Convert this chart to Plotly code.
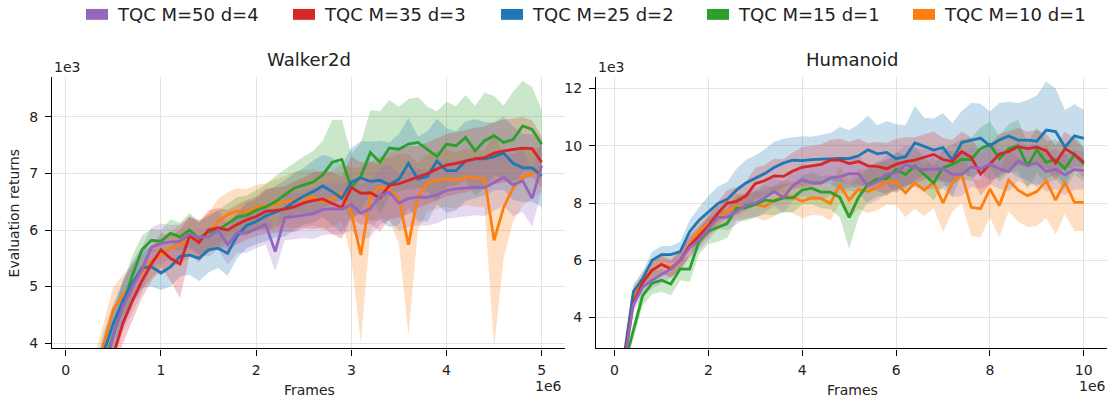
import plotly.graph_objects as go

# ---------------- data (frames in 1e6, returns in 1e3) ----------------
walker_frames = [0.3, 0.4, 0.5, 0.6, 0.7, 0.8, 0.9, 1.0,
                 1.1, 1.2, 1.3, 1.4, 1.5, 1.6, 1.7, 1.8, 1.9, 2.0,
                 2.1, 2.2, 2.3, 2.4, 2.5, 2.6, 2.7, 2.8, 2.9, 3.0,
                 3.1, 3.2, 3.3, 3.4, 3.5, 3.6, 3.7, 3.8, 3.9, 4.0,
                 4.1, 4.2, 4.3, 4.4, 4.5, 4.6, 4.7, 4.8, 4.9, 5.0]

walker_m50 = [2.9, 3.4, 4.15, 4.65, 5.0, 5.3, 5.7, 5.76,
              5.79, 5.8, 5.93, 5.87, 5.88, 6.0, 5.74, 5.95, 5.95, 6.03,
              6.1, 5.62, 6.22, 6.24, 6.26, 6.29, 6.36, 6.38, 6.37, 6.45,
              6.3, 6.38, 6.6, 6.67, 6.48, 6.56, 6.58, 6.58, 6.62, 6.7,
              6.73, 6.74, 6.76, 6.75, 6.84, 6.93, 6.8, 6.87, 6.56, 7.14]
walker_m50_std = [0.35, 0.4, 0.45, 0.45, 0.45, 0.4, 0.35, 0.35,
                  0.3, 0.3, 0.3, 0.3, 0.35, 0.35, 0.35, 0.35, 0.35, 0.35,
                  0.35, 0.35, 0.4, 0.4, 0.4, 0.45, 0.45, 0.45, 0.45, 0.45,
                  0.5, 0.5, 0.5, 0.5, 0.5, 0.5, 0.5, 0.5, 0.5, 0.5,
                  0.5, 0.5, 0.5, 0.5, 0.5, 0.5, 0.55, 0.55, 0.5, 0.45]

walker_m35 = [3.0, 3.4, 3.8, 4.35, 4.75, 5.1, 5.4, 5.65,
              5.5, 5.4, 5.9, 5.78, 6.0, 6.04, 6.0, 6.1, 6.18, 6.24,
              6.33, 6.35, 6.37, 6.41, 6.48, 6.52, 6.55, 6.47, 6.4, 6.75,
              6.65, 6.66, 6.57, 6.79, 6.82, 6.88, 6.94, 7.0, 7.08, 7.15,
              7.18, 7.22, 7.26, 7.28, 7.36, 7.4, 7.42, 7.45, 7.44, 7.2]
walker_m35_std = [0.3, 0.3, 0.35, 0.35, 0.35, 0.3, 0.3, 0.3,
                  0.4, 0.6, 0.35, 0.35, 0.35, 0.35, 0.35, 0.35, 0.35, 0.35,
                  0.4, 0.4, 0.4, 0.45, 0.45, 0.5, 0.5, 0.55, 0.55, 0.55,
                  0.55, 0.55, 0.6, 0.6, 0.6, 0.6, 0.55, 0.55, 0.55, 0.55,
                  0.55, 0.55, 0.55, 0.55, 0.55, 0.55, 0.55, 0.55, 0.5, 0.45]

walker_m25 = [3.2, 3.85, 4.35, 4.75, 5.05, 5.33, 5.35, 5.24,
              5.35, 5.53, 5.56, 5.5, 5.65, 5.68, 5.59, 5.9, 6.08, 6.15,
              6.25, 6.32, 6.38, 6.5, 6.6, 6.68, 6.78, 6.68, 6.56, 6.85,
              6.92, 6.86, 6.88, 6.8, 6.9, 7.18, 6.9, 6.95, 7.22, 7.05,
              7.05, 7.22, 7.26, 7.26, 7.3, 7.36, 7.18, 7.1, 7.1, 6.96]
walker_m25_std = [0.3, 0.35, 0.35, 0.35, 0.35, 0.35, 0.35, 0.3,
                  0.35, 0.35, 0.35, 0.4, 0.4, 0.35, 0.4, 0.4, 0.4, 0.4,
                  0.45, 0.45, 0.5, 0.5, 0.5, 0.55, 0.55, 0.6, 0.6, 0.6,
                  0.65, 0.7, 0.7, 0.75, 0.8, 0.8, 0.75, 0.8, 0.75, 0.75,
                  0.7, 0.7, 0.7, 0.65, 0.6, 0.65, 0.65, 0.6, 0.6, 0.55]

walker_m15 = [3.0, 3.6, 4.15, 4.68, 5.2, 5.65, 5.82, 5.8,
              5.94, 5.88, 6.0, 5.85, 5.97, 6.0, 6.12, 6.23, 6.26, 6.35,
              6.41, 6.5, 6.62, 6.74, 6.8, 6.85, 6.98, 7.2, 7.25, 6.75,
              6.95, 7.37, 7.2, 7.45, 7.43, 7.52, 7.55, 7.43, 7.3, 7.52,
              7.49, 7.64, 7.4, 7.58, 7.67, 7.55, 7.6, 7.84, 7.78, 7.52]
walker_m15_std = [0.3, 0.35, 0.4, 0.4, 0.35, 0.25, 0.2, 0.2,
                  0.25, 0.25, 0.3, 0.3, 0.3, 0.35, 0.35, 0.35, 0.35, 0.35,
                  0.4, 0.45, 0.45, 0.45, 0.5, 0.55, 0.6, 0.75, 0.7, 0.6,
                  0.6, 0.75, 0.9, 0.85, 0.75, 0.8, 0.8, 0.75, 0.8, 0.75,
                  0.7, 0.75, 0.8, 0.85, 0.7, 0.65, 0.85, 0.8, 0.75, 0.6]

walker_m10 = [3.4, 4.0, 4.6, 4.85, 5.05, 5.25, 5.45, 5.55,
              5.68, 5.74, 5.87, 5.83, 5.95, 6.15, 6.27, 6.34, 6.32, 6.4,
              6.43, 6.45, 6.5, 6.53, 6.55, 6.58, 6.5, 6.55, 6.66, 6.3,
              5.56, 6.6, 6.76, 6.72, 6.55, 5.74, 6.6, 6.83, 6.88, 6.91,
              6.88, 6.94, 6.92, 6.9, 5.82, 6.4, 6.75, 6.94, 7.0, 7.08]
walker_m10_std = [0.35, 0.4, 0.4, 0.35, 0.35, 0.3, 0.3, 0.3,
                  0.3, 0.35, 0.35, 0.35, 0.35, 0.4, 0.4, 0.4, 0.4, 0.4,
                  0.4, 0.45, 0.45, 0.5, 0.5, 0.5, 0.5, 0.5, 0.5, 0.8,
                  1.55, 0.6, 0.55, 0.55, 0.8, 1.6, 0.6, 0.5, 0.5, 0.5,
                  0.5, 0.5, 0.5, 0.5, 1.9, 0.9, 0.6, 0.5, 0.45, 0.4]

humanoid_frames = [0.2, 0.4, 0.6, 0.8, 1.0, 1.2, 1.4, 1.6, 1.8, 2.0,
                   2.2, 2.4, 2.6, 2.8, 3.0, 3.2, 3.4, 3.6, 3.8, 4.0,
                   4.2, 4.4, 4.6, 4.8, 5.0, 5.2, 5.4, 5.6, 5.8, 6.0,
                   6.2, 6.4, 6.6, 6.8, 7.0, 7.2, 7.4, 7.6, 7.8, 8.0,
                   8.2, 8.4, 8.6, 8.8, 9.0, 9.2, 9.4, 9.6, 9.8, 10.0]

humanoid_m50 = [2.3, 4.45, 5.06, 5.3, 5.5, 5.69, 6.0, 6.44, 6.7, 7.1,
                7.5, 7.5, 7.7, 7.92, 8.0, 8.18, 8.4, 8.2, 8.6, 8.82,
                8.7, 8.7, 8.88, 8.92, 9.03, 9.03, 8.6, 8.75, 9.01, 9.05,
                9.34, 9.24, 9.17, 9.19, 9.2, 9.01, 9.0, 9.26, 9.2, 9.36,
                9.2, 9.1, 9.48, 9.3, 9.4, 9.1, 9.18, 8.98, 9.17, 9.13]
humanoid_m50_std = [0.2, 0.25, 0.3, 0.3, 0.3, 0.3, 0.35, 0.35, 0.35, 0.4,
                    0.4, 0.45, 0.45, 0.45, 0.5, 0.5, 0.5, 0.55, 0.55, 0.55,
                    0.6, 0.6, 0.6, 0.6, 0.6, 0.65, 0.65, 0.65, 0.65, 0.65,
                    0.7, 0.7, 0.7, 0.7, 0.7, 0.8, 0.75, 0.7, 0.7, 0.7,
                    0.7, 0.7, 0.7, 0.7, 0.7, 0.7, 0.7, 0.7, 0.7, 0.65]

humanoid_m35 = [2.5, 4.5, 5.22, 5.65, 5.86, 5.69, 6.0, 6.5, 6.85, 7.2,
                7.64, 8.0, 8.06, 8.25, 8.68, 8.78, 8.95, 8.93, 9.12, 9.25,
                9.3, 9.35, 9.5, 9.5, 9.38, 9.45, 9.3, 9.28, 9.2, 9.35,
                9.45, 9.5, 9.6, 9.7, 9.52, 9.45, 9.8, 9.6, 9.01, 9.35,
                9.71, 9.8, 9.97, 9.9, 9.95, 9.83, 9.4, 9.9, 9.7, 9.42]
humanoid_m35_std = [0.2, 0.25, 0.25, 0.3, 0.3, 0.3, 0.3, 0.35, 0.35, 0.35,
                    0.4, 0.45, 0.5, 0.5, 0.55, 0.55, 0.6, 0.6, 0.65, 0.7,
                    0.7, 0.7, 0.7, 0.75, 0.75, 0.8, 0.8, 0.85, 0.9, 0.9,
                    0.85, 0.8, 0.8, 0.8, 0.75, 0.75, 0.7, 0.7, 0.75, 0.7,
                    0.7, 0.7, 0.65, 0.6, 0.6, 0.6, 0.6, 0.6, 0.55, 0.5]

humanoid_m25 = [2.6, 4.9, 5.36, 6.0, 6.2, 6.2, 6.3, 7.0, 7.4, 7.7,
                7.98, 8.13, 8.45, 8.7, 8.86, 9.03, 9.24, 9.4, 9.5, 9.48,
                9.52, 9.54, 9.55, 9.56, 9.55, 9.65, 9.86, 9.72, 9.77, 9.55,
                9.62, 10.1, 9.98, 9.85, 9.94, 9.5, 10.12, 10.2, 10.27, 10.0,
                10.2, 10.34, 10.2, 10.2, 10.16, 10.55, 10.5, 9.95, 10.35, 10.26]
humanoid_m25_std = [0.2, 0.25, 0.25, 0.3, 0.3, 0.3, 0.35, 0.4, 0.45, 0.55,
                    0.6, 0.6, 0.75, 0.8, 0.8, 0.85, 0.9, 0.85, 0.8, 0.85,
                    0.8, 0.85, 0.9, 1.1, 1.0, 1.1, 1.2, 1.0, 1.1, 1.2,
                    1.1, 1.3, 1.0, 1.1, 1.2, 1.3, 1.1, 1.3, 1.2, 1.2,
                    1.3, 1.2, 1.3, 1.4, 1.6, 1.7, 1.5, 1.3, 1.1, 1.0]

humanoid_m15 = [2.3, 3.5, 4.76, 5.2, 5.3, 5.17, 5.7, 5.69, 6.65, 7.02,
                7.15, 7.28, 7.82, 7.83, 7.95, 8.1, 8.07, 8.18, 8.18, 8.45,
                8.52, 8.38, 8.38, 8.2, 7.5, 8.2, 8.65, 8.84, 8.85, 9.18,
                9.0, 9.3, 9.0, 8.7, 9.24, 9.35, 9.53, 9.52, 9.9, 10.05,
                9.55, 9.9, 10.0, 9.3, 9.85, 9.42, 9.53, 9.2, 9.7, 9.36]
humanoid_m15_std = [0.2, 0.3, 0.35, 0.4, 0.4, 0.4, 0.4, 0.45, 0.45, 0.45,
                    0.5, 0.5, 0.45, 0.45, 0.45, 0.5, 0.5, 0.5, 0.5, 0.5,
                    0.55, 0.55, 0.6, 0.7, 1.1, 0.7, 0.6, 0.6, 0.6, 0.6,
                    0.65, 0.65, 0.6, 0.6, 0.65, 0.7, 0.7, 0.75, 0.75, 0.8,
                    0.8, 0.85, 0.9, 0.8, 0.8, 0.75, 0.7, 0.7, 0.7, 0.6]

humanoid_m10 = [2.4, 4.75, 5.32, 5.66, 5.86, 5.76, 5.98, 6.55, 7.0, 7.28,
                7.46, 7.74, 7.88, 7.89, 7.95, 7.88, 8.08, 8.26, 8.2, 8.06,
                8.18, 8.16, 7.98, 8.65, 8.1, 8.49, 8.4, 8.55, 8.75, 8.72,
                8.35, 8.7, 8.45, 8.72, 8.0, 8.7, 9.0, 7.85, 7.8, 8.49,
                7.91, 8.8, 8.45, 8.26, 8.4, 8.78, 8.1, 8.72, 8.02, 8.02]
humanoid_m10_std = [0.2, 0.3, 0.3, 0.3, 0.35, 0.35, 0.35, 0.35, 0.4, 0.4,
                    0.4, 0.45, 0.45, 0.45, 0.45, 0.5, 0.55, 0.55, 0.55, 0.6,
                    0.6, 0.6, 0.6, 0.65, 0.65, 0.7, 0.75, 0.8, 0.8, 0.8,
                    0.85, 0.9, 0.9, 0.9, 1.0, 1.0, 1.0, 1.0, 1.0, 1.0,
                    1.1, 1.1, 1.1, 1.1, 1.2, 1.3, 1.2, 1.1, 1.0, 1.0]

series_names = ["TQC M=50 d=4", "TQC M=35 d=3", "TQC M=25 d=2",
                "TQC M=15 d=1", "TQC M=10 d=1"]
series_colors = ["#9467bd", "#d62728", "#1f77b4", "#2ca02c", "#ff7f0e"]

walker_runs = [(walker_m50, walker_m50_std), (walker_m35, walker_m35_std),
               (walker_m25, walker_m25_std), (walker_m15, walker_m15_std),
               (walker_m10, walker_m10_std)]
humanoid_runs = [(humanoid_m50, humanoid_m50_std), (humanoid_m35, humanoid_m35_std),
                 (humanoid_m25, humanoid_m25_std), (humanoid_m15, humanoid_m15_std),
                 (humanoid_m10, humanoid_m10_std)]

# ---------------- figure ----------------
W, H = 1114, 402


def px_x(p):
    return p / W


def px_y(p):
    return 1 - p / H


def rgba(hex_color, a):
    h = hex_color.lstrip("#")
    r, g, b = int(h[0:2], 16), int(h[2:4], 16), int(h[4:6], 16)
    return f"rgba({r},{g},{b},{a})"


fig = go.Figure()

draw_order = [4, 3, 2, 1, 0]
for frames, runs, xa, ya in [(walker_frames, walker_runs, "x", "y"),
                             (humanoid_frames, humanoid_runs, "x2", "y2")]:
    # shaded spread
    for i in draw_order:
        mean, std = runs[i]
        upper = [m + s for m, s in zip(mean, std)]
        lower = [m - s for m, s in zip(mean, std)]
        fig.add_trace(go.Scatter(
            x=frames + frames[::-1], y=upper + lower[::-1],
            fill="toself", fillcolor=rgba(series_colors[i], 0.25),
            line=dict(width=0), mode="lines", hoverinfo="skip",
            showlegend=False, xaxis=xa, yaxis=ya))
    # mean curves
    for i in draw_order:
        mean, _ = runs[i]
        fig.add_trace(go.Scatter(
            x=frames, y=mean, mode="lines", name=series_names[i],
            line=dict(color=series_colors[i], width=2.8),
            showlegend=False, xaxis=xa, yaxis=ya))

FONT = "DejaVu Sans"
axis_common = dict(
    showline=True, linecolor="black", linewidth=1.3,
    ticks="outside", ticklen=6, tickwidth=1.3, tickcolor="black",
    showgrid=True, gridcolor="#e3e3e3", gridwidth=1, zeroline=False,
    tickfont=dict(family=FONT, size=14, color="#222"), mirror=False,
)
x_extra = dict(ticklabelstandoff=3)
y_extra = dict(ticklabelstandoff=4)

y_dom = [px_y(351), px_y(78)]
fig.update_layout(
    width=W, height=H, autosize=False,
    margin=dict(l=0, r=0, t=0, b=0),
    plot_bgcolor="white", paper_bgcolor="white",
    showlegend=False,
    xaxis=dict(domain=[px_x(52), px_x(565)], range=[-0.145, 5.245],
               tickvals=[0, 1, 2, 3, 4, 5], anchor="y", **axis_common, **x_extra),
    yaxis=dict(domain=y_dom, range=[3.907, 8.70],
               tickvals=[4, 5, 6, 7, 8], anchor="x", **axis_common, **y_extra),
    xaxis2=dict(domain=[px_x(596), px_x(1107)], range=[-0.395, 10.495],
                tickvals=[0, 2, 4, 6, 8, 10], anchor="y2", **axis_common, **x_extra),
    yaxis2=dict(domain=y_dom, range=[2.92, 12.39],
                tickvals=[4, 6, 8, 10, 12], anchor="x2", **axis_common, **y_extra),
)

annotations = []


def text(x, y, s, size=14, xanchor="center", angle=0):
    annotations.append(dict(
        x=px_x(x), y=px_y(y), xref="paper", yref="paper", text=s,
        showarrow=False, xanchor=xanchor, yanchor="middle", textangle=angle,
        font=dict(family=FONT, size=size, color="#222")))


# panel titles
text(309, 60, "Walker2d", size=18)
text(852, 60, "Humanoid", size=18)
# axis scale offsets
text(52, 68, "1e3", xanchor="left")
text(596, 68, "1e3", xanchor="left")
text(564, 389, "1e6", xanchor="right")
text(1108, 389, "1e6", xanchor="right")
# axis titles
text(309, 393, "Frames")
text(852, 393, "Frames")
text(14, 215, "Evaluation returns", angle=-90)

# legend row
legend_x = [86, 293, 501, 707, 913]
shapes = []
for i, lx in enumerate(legend_x):
    shapes.append(dict(type="rect", xref="paper", yref="paper",
                       x0=px_x(lx), x1=px_x(lx + 22), y0=px_y(20), y1=px_y(9),
                       fillcolor=series_colors[i], line=dict(width=0)))
    text(lx + 29, 15, series_names[i], size=18, xanchor="left")

fig.update_layout(annotations=annotations, shapes=shapes)

fig.write_html("out.html")
